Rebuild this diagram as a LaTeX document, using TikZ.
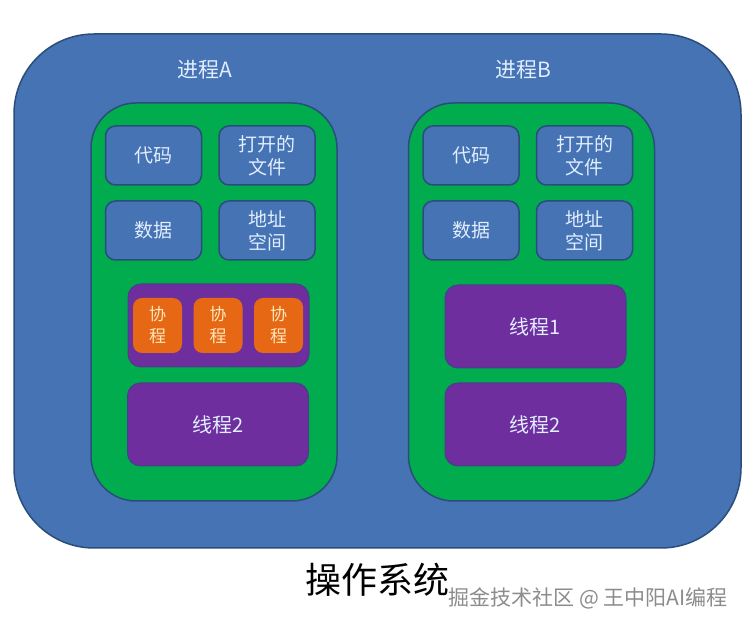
\documentclass[tikz,border=0pt]{standalone}
\usepackage{fontspec}
\setmainfont{Noto Sans CJK SC}
\usepackage{tikz}
\usetikzlibrary{positioning}

\definecolor{osblue}{RGB}{70,115,180}
\definecolor{edgeblue}{RGB}{42,78,122}
\definecolor{procgreen}{RGB}{0,172,78}
\definecolor{thrpurple}{RGB}{110,46,158}
\definecolor{corange}{RGB}{230,104,20}
\definecolor{lbltext}{RGB}{225,238,255}
\definecolor{cotext}{RGB}{255,232,190}

\tikzset{
  osbox/.style={draw=edgeblue, line width=1.5pt, fill=osblue, rounded corners=80pt,
    minimum width=727pt, minimum height=514pt, inner sep=0pt},
  procbox/.style={draw=edgeblue, line width=1.5pt, fill=procgreen, rounded corners=45pt,
    minimum width=246pt, minimum height=398pt, inner sep=0pt},
  resbox/.style={draw=edgeblue, line width=1.5pt, fill=osblue, rounded corners=10pt,
    minimum width=96pt, minimum height=59pt, inner sep=0pt, text=lbltext,
    font=\fontsize{19}{23}\selectfont, align=center},
  thrbox/.style={draw=edgeblue!60!thrpurple, line width=1pt, fill=thrpurple, rounded corners=13pt,
    minimum width=181pt, minimum height=83pt, inner sep=0pt, text=lbltext,
    font=\fontsize{20}{22}\selectfont},
  cobox/.style={fill=corange, rounded corners=9pt, minimum width=49pt, minimum height=55pt,
    inner sep=0pt, text=cotext, font=\fontsize{17}{22}\selectfont, align=center},
  title/.style={text=lbltext, font=\fontsize{21}{23}\selectfont}
}

\begin{document}
\begin{tikzpicture}[x=1pt,y=-1pt]
\useasboundingbox[fill=white] (0,0) rectangle (756,628);
% operating system
\node[osbox] (os) at (377.5,291) {};
\node[title] (tA) at (205,70) {进程A};
\node[title] (tB) at (523,70) {进程B};
% process A
\node[procbox] (pA) at (214,302) {};
\node[resbox] (codeA) at (153.5,155.5) {代码};
\node[resbox] (fileA) at (267,155.5) {打开的\\文件};
\node[resbox] (dataA) at (153.5,230.5) {数据};
\node[resbox] (addrA) at (267,230.5) {地址\\空间};
\node[thrbox] (thr1A) at (218.5,325.5) {};
\foreach \x/\n in {157.5/1,218/2,278.5/3}
  \node[cobox] (co\n) at (\x,325.5) {协\\程};
\node[thrbox] (thr2A) at (218,424.5) {线程2};
% process B
\node[procbox] (pB) at (531.5,302) {};
\node[resbox] (codeB) at (471,155.5) {代码};
\node[resbox] (fileB) at (584.5,155.5) {打开的\\文件};
\node[resbox] (dataB) at (471,230.5) {数据};
\node[resbox] (addrB) at (584.5,230.5) {地址\\空间};
\node[thrbox] (thr1B) at (535.5,326.5) {线程1};
\node[thrbox] (thr2B) at (535.5,424.5) {线程2};
% caption
\node[font=\fontsize{36}{38}\selectfont, anchor=west] (osname) at (302,580) {操作系统};
\node[text=black!45, font=\fontsize{21}{23}\selectfont, anchor=west] (mark) at (445,598) {掘金技术社区 @ 王中阳AI编程};
\end{tikzpicture}
\end{document}
